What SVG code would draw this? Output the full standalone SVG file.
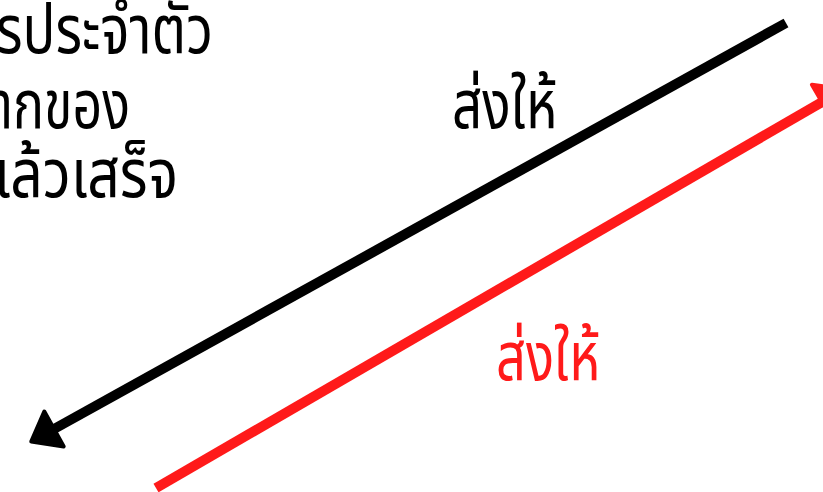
<svg xmlns="http://www.w3.org/2000/svg" width="823" height="492" viewBox="0 0 823 492">
  <style>
    .t { font-family: "Noto Sans Thai", "Noto Sans", "DejaVu Sans", sans-serif; font-size: 68px; }
    .blk { fill: #000000; }
    .red { fill: #ff1a1a; }
    .ln { fill: none; stroke-width: 10; stroke-linecap: butt; }
  </style>
  <defs>
    <marker id="ahB" viewBox="0 0 28 40" refX="0" refY="20" markerWidth="28" markerHeight="40" markerUnits="userSpaceOnUse" orient="auto" overflow="visible">
      <path d="M0,0 L26,20 L0,40 Z" fill="#000000" stroke="#000000" stroke-width="4" stroke-linejoin="round"/>
    </marker>
    <marker id="ahR" viewBox="0 0 28 40" refX="0" refY="20" markerWidth="28" markerHeight="40" markerUnits="userSpaceOnUse" orient="auto" overflow="visible">
      <path d="M0,0 L26,20 L0,40 Z" fill="#ff1a1a" stroke="#ff1a1a" stroke-width="4" stroke-linejoin="round"/>
    </marker>
  </defs>
  <g id="node-text">
    <text class="t blk" x="-4" y="53" textLength="217" lengthAdjust="spacingAndGlyphs">รประจำตัว</text>
    <text class="t blk" x="-8" y="128" textLength="138" lengthAdjust="spacingAndGlyphs">ากของ</text>
    <text class="t blk" x="-6" y="197" textLength="184" lengthAdjust="spacingAndGlyphs">เล้วเสร็จ</text>
  </g>
  <g id="connectors">
    <line class="ln" x1="786" y1="23" x2="54" y2="429" stroke="#000000" marker-end="url(#ahB)"/>
    <line class="ln" x1="156" y1="488" x2="822" y2="102" stroke="#ff1a1a" marker-end="url(#ahR)"/>
  </g>
  <g id="labels">
    <text class="t blk" x="452" y="128" textLength="105" lengthAdjust="spacingAndGlyphs">ส่งให้</text>
    <text class="t red" x="496" y="380" textLength="104" lengthAdjust="spacingAndGlyphs">ส่งให้</text>
  </g>
</svg>
